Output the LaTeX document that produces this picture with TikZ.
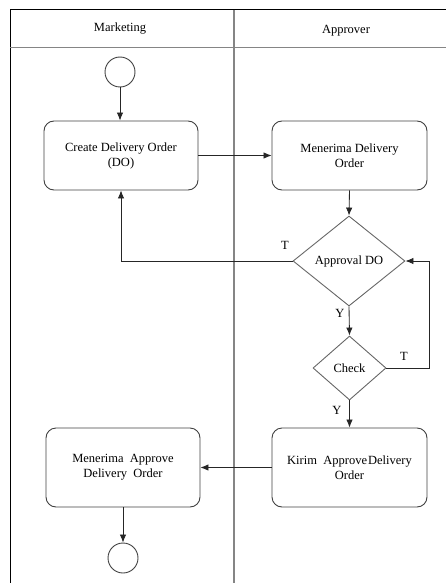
\documentclass[tikz,border=0pt]{standalone}
\usepackage{fontspec}
\setmainfont{Liberation Serif}
\usetikzlibrary{arrows.meta,shapes.geometric}
\begin{document}
\begin{tikzpicture}[x=1pt,y=-1pt,
  font=\fontsize{12.5}{15}\selectfont,
  lane/.style={line width=1.8pt,draw=black!48},
  frameline/.style={line width=1pt,draw=black},
  actbox/.style={draw=black!75,line width=0.9pt,rounded corners=10pt,align=center,inner sep=2pt},
  decision/.style={diamond,draw=black!60,line width=0.9pt,inner sep=0pt},
  terminal/.style={circle,draw=black!75,line width=0.9pt,minimum size=30pt,inner sep=0pt},
  flow/.style={draw=black!85,line width=0.85pt,-{Latex[length=8pt,width=6.5pt]}},
  guard/.style={inner sep=0pt}]
\useasboundingbox (0,0) rectangle (446,583);

% swimlane frame
\draw[frameline] (10,583) -- (10,10) -- (446,10);
\draw[lane] (10,47.5) -- (446,47.5);
\draw[lane] (234,10) -- (234,583);
\node (hmkt) at (120,29) {Marketing};
\node (happ) at (346,31) {Approver};

% activities
\node[terminal] (start) at (120,72) {};
\node[actbox,minimum width=154pt,minimum height=69pt] (create) at (121,155.5)
  {Create Delivery Order\\(DO)};
\node[actbox,minimum width=155pt,minimum height=69pt] (recv) at (349.5,155.5)
  {Menerima Delivery\\Order};
\node[decision,minimum width=112pt,minimum height=90pt] (appr) at (349,261) {Approval DO};
\node[decision,minimum width=73pt,minimum height=64pt] (check) at (349.5,368) {Check};
\node[actbox,minimum width=155pt,minimum height=79pt] (send) at (349.5,467.5)
  {Kirim\ \ Approve\hspace{1pt}Delivery\\Order};
\node[actbox,minimum width=154pt,minimum height=79pt] (recvapp) at (123,467.5)
  {Menerima\ \ Approve\\Delivery\ \ Order};
\node[terminal] (stop) at (123,558) {};
\coordinate (loop) at (429,368);

% flows
\draw[flow] (start.south) -- (start.south |- create.north);
\draw[flow] (create.east) -- (recv.west);
\draw[flow] (recv.south) -- (appr.north);
\draw[flow] (appr.west) -| (create.south);
\draw[flow] (appr.south) -- (check.north);
\draw[flow] (check.east) -- (loop) |- (appr.east);
\draw[flow] (check.south) -- (send.north);
\draw[flow] (send.west) -- (recvapp.east);
\draw[flow] (recvapp.south) -- (stop.north);

% guards
\node[guard] (t1) at (285,245) {T};
\node[guard] (y1) at (340,313) {Y};
\node[guard] (t2) at (404,356) {T};
\node[guard] (y2) at (337,410) {Y};
\end{tikzpicture}
\end{document}
